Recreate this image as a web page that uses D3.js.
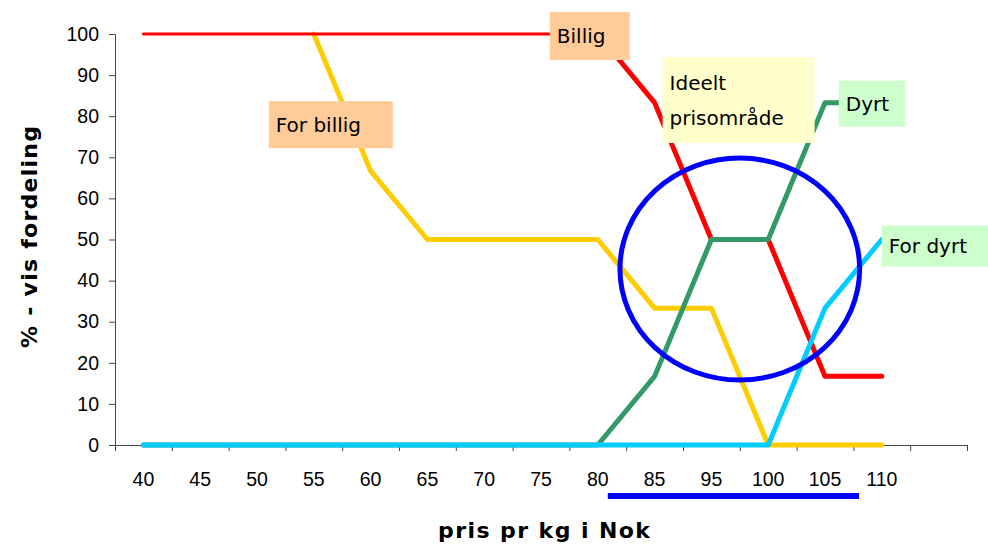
<!DOCTYPE html>
<html>
<head>
<meta charset="utf-8">
<script src="https://cdn.jsdelivr.net/npm/d3@7"></script>
<style>
  body { margin: 0; background: #fff; }
  svg { display: block; }
</style>
</head>
<body>
<svg id="chart" width="988" height="547"></svg>
<script>
// categories (price per kg, NOK) - the last slot is empty in the original
const categories = ['40', '45', '50', '55', '60', '65', '70', '75', '80', '85', '95', '100', '105', '110', '']

// series values (% share), one value per category (null = not drawn)
const forBillig = [null, null, null, 100, 66.7, 50, 50, 50, 50, 33.3, 33.3, 0, 0, 0]
const billig = [100, 100, 100, 100, 100, 100, 100, 100, 100, 83.3, 50, 50, 16.7, 16.7]
const dyrt = [0, 0, 0, 0, 0, 0, 0, 0, 0, 16.7, 50, 50, 83.3, 83.3]
const forDyrt = [0, 0, 0, 0, 0, 0, 0, 0, 0, 0, 0, 0, 33.3, 50]

const yTicks = [0, 10, 20, 30, 40, 50, 60, 70, 80, 90, 100]

const width = 988
const height = 547
const margin = { top: 34, right: 21, bottom: 102, left: 115 }

const labelFont = "'DejaVu Sans', sans-serif"
const tickFont = "Arial, 'Liberation Sans', sans-serif"

const svg = d3.select('#chart')

const x = d3
  .scaleBand()
  .domain(categories)
  .range([margin.left, width - margin.right])
  .paddingInner(0)
  .paddingOuter(0)

const xc = (c) => x(c) + x.bandwidth() / 2

const y = d3
  .scaleLinear()
  .domain([0, 100])
  .range([height - margin.bottom, margin.top])

// y axis
const yAxis = svg
  .append('g')
  .attr('transform', `translate(${margin.left},0)`)
  .call(d3.axisLeft(y).tickValues(yTicks).tickSize(6).tickPadding(10).tickSizeOuter(0))
yAxis.select('.domain').attr('stroke', '#444')
yAxis.selectAll('.tick line').attr('stroke', '#444')
yAxis
  .selectAll('.tick text')
  .attr('font-family', tickFont)
  .attr('font-size', 19.5)
  .attr('fill', '#000')

// x axis: ticks sit on the boundaries between categories
const boundary = d3
  .scaleLinear()
  .domain([0, categories.length])
  .range([margin.left, width - margin.right])

const xAxis = svg
  .append('g')
  .attr('transform', `translate(0,${y(0)})`)
  .call(
    d3
      .axisBottom(boundary)
      .tickValues(d3.range(0, categories.length + 1))
      .tickFormat('')
      .tickSize(6)
      .tickSizeOuter(0)
  )
xAxis.select('.domain').attr('stroke', '#444')
xAxis.selectAll('.tick line').attr('stroke', '#444')

svg
  .append('g')
  .selectAll('text')
  .data(categories)
  .join('text')
  .attr('x', (d) => xc(d))
  .attr('y', y(0) + 41)
  .attr('text-anchor', 'middle')
  .attr('font-family', tickFont)
  .attr('font-size', 19.5)
  .text((d) => d)

// lines
const toPoints = (vals) => vals.map((v, i) => ({ v, i }))
const segLine = d3
  .line()
  .defined((d) => d.v != null)
  .x((d) => xc(categories[d.i]))
  .y((d) => y(d.v))

const series = [
  { name: 'For billig', values: toPoints(forBillig), color: '#FFCC00', w: 5 },
  // the flat part of "Billig" is drawn thinner in the original
  { name: 'Billig (flat)', values: toPoints(billig).slice(0, 9), color: '#FF0000', w: 3 },
  { name: 'Billig', values: toPoints(billig).slice(8), color: '#FF0000', w: 5 },
  { name: 'Dyrt', values: toPoints(dyrt), color: '#339966', w: 5 },
  { name: 'For dyrt', values: toPoints(forDyrt), color: '#00CCFF', w: 5 },
]

svg
  .append('g')
  .selectAll('path')
  .data(series)
  .join('path')
  .attr('d', (d) => segLine(d.values))
  .attr('fill', 'none')
  .attr('stroke', (d) => d.color)
  .attr('stroke-width', (d) => d.w)
  .attr('stroke-linejoin', 'round')
  .attr('stroke-linecap', 'round')

// the "ideal price range" ring and underline
const ringCx = (xc('95') + xc('100')) / 2
svg
  .append('ellipse')
  .attr('cx', ringCx)
  .attr('cy', y(42.8))
  .attr('rx', x.bandwidth() * 2.11)
  .attr('ry', y(0) - y(27))
  .attr('fill', 'none')
  .attr('stroke', '#0000FF')
  .attr('stroke-width', 5)

svg
  .append('line')
  .attr('x1', xc('80') + 10)
  .attr('x2', xc('105') + 34)
  .attr('y1', y(0) + 51)
  .attr('y2', y(0) + 51)
  .attr('stroke', '#0000FF')
  .attr('stroke-width', 6)

// label boxes
const annotations = [
  { lines: ['Billig'], cat: '80', value: 100, dx: -48, dy: -22, w: 80, h: 48, fill: '#FFCC99' },
  { lines: ['For billig'], cat: '55', value: 80, dx: -45, dy: -15, w: 124, h: 47, fill: '#FFCC99' },
  { lines: ['Ideelt', 'prisområde'], cat: '85', value: 100, dx: 8, dy: 23, w: 152, h: 86, fill: '#FFFFCC' },
  { lines: ['Dyrt'], cat: '110', value: 83.3, dx: -43, dy: -22, w: 66, h: 46, fill: '#CCFFCC' },
  { lines: ['For dyrt'], cat: '110', value: 50, dx: 0, dy: -14, w: 110, h: 41, fill: '#CCFFCC' },
]

const boxes = svg
  .append('g')
  .selectAll('g')
  .data(annotations)
  .join('g')
  .attr('transform', (d) => `translate(${xc(d.cat) + d.dx},${y(d.value) + d.dy})`)

boxes
  .append('rect')
  .attr('width', (d) => d.w)
  .attr('height', (d) => d.h)
  .attr('fill', (d) => d.fill)

boxes
  .append('text')
  .attr('font-family', labelFont)
  .attr('font-size', 20)
  .attr('fill', '#000')
  .selectAll('tspan')
  .data((d) => d.lines.map((t, i) => ({ t, i, n: d.lines.length, h: d.h })))
  .join('tspan')
  .attr('x', 7)
  .attr('y', (d) => d.h / 2 + 7 + (d.i - (d.n - 1) / 2) * 35)
  .text((d) => d.t)

// axis titles
svg
  .append('text')
  .attr('x', 544)
  .attr('y', 538)
  .attr('text-anchor', 'middle')
  .attr('font-family', labelFont)
  .attr('font-weight', 'bold')
  .attr('font-size', 22)
  .attr('textLength', 212)
  .attr('lengthAdjust', 'spacing')
  .text('pris pr kg i Nok')

svg
  .append('text')
  .attr('transform', 'translate(37,237) rotate(-90)')
  .attr('text-anchor', 'middle')
  .attr('font-family', labelFont)
  .attr('font-weight', 'bold')
  .attr('font-size', 22)
  .attr('textLength', 222)
  .attr('lengthAdjust', 'spacing')
  .text('% - vis fordeling')
</script>
</body>
</html>
